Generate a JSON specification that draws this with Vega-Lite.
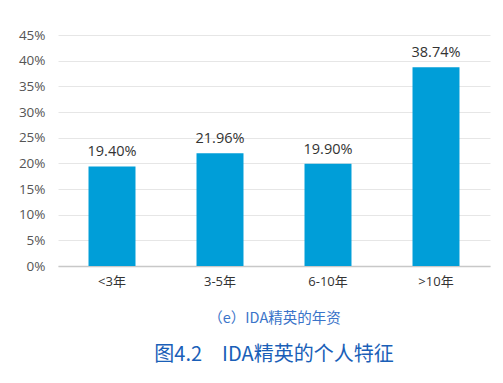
{
  "$schema": "https://vega.github.io/schema/vega-lite/v6.json",
  "autosize": "none",
  "width": 432,
  "height": 231,
  "padding": {"left": 58, "top": 35, "right": 13, "bottom": 117},
  "background": "white",
  "config": {"view": {"stroke": null}, "font": "Open Sans, Noto Sans CJK SC"},
  "title": {
    "text": "图4.2　IDA精英的个人特征",
    "orient": "bottom",
    "anchor": "middle",
    "fontSize": 20,
    "fontWeight": "normal",
    "color": "#1a5fb8",
    "offset": 20,
    "font": "Noto Sans CJK SC"
  },
  "data": {
    "values": [
      {"group": "<3年", "value": 19.40},
      {"group": "3-5年", "value": 21.96},
      {"group": "6-10年", "value": 19.90},
      {"group": ">10年", "value": 38.74}
    ]
  },
  "encoding": {
    "x": {
      "field": "group",
      "type": "nominal",
      "sort": null,
      "scale": {"paddingInner": 0.565, "paddingOuter": 0.2825},
      "axis": {
        "title": "（e）IDA精英的年资",
        "titleColor": "#3b74c9",
        "titleFont": "Noto Sans CJK SC",
        "titleFontSize": 14.5,
        "titleFontWeight": "normal",
        "titlePadding": 23,
        "labelAngle": 0,
        "labelFontSize": 13,
        "labelColor": "#333333",
        "labelPadding": 9,
        "ticks": false,
        "domainColor": "#c8c8c8",
        "domainWidth": 1.5
      }
    },
    "y": {
      "field": "value",
      "type": "quantitative",
      "scale": {"domain": [0, 45]},
      "axis": {
        "values": [0, 5, 10, 15, 20, 25, 30, 35, 40, 45],
        "labelExpr": "datum.value + '%'",
        "title": null,
        "domain": false,
        "ticks": false,
        "labelFontSize": 13.5,
        "labelColor": "#555555",
        "labelPadding": 13,
        "gridColor": "#e6e6e6",
        "gridWidth": 1
      }
    }
  },
  "layer": [
    {"mark": {"type": "bar", "color": "#009ed8"}},
    {
      "mark": {
        "type": "text",
        "baseline": "bottom",
        "dy": -7,
        "fontSize": 14.5,
        "color": "#333333",
        "text": {"expr": "format(datum.value, '.2f') + '%'"}
      }
    }
  ]
}
